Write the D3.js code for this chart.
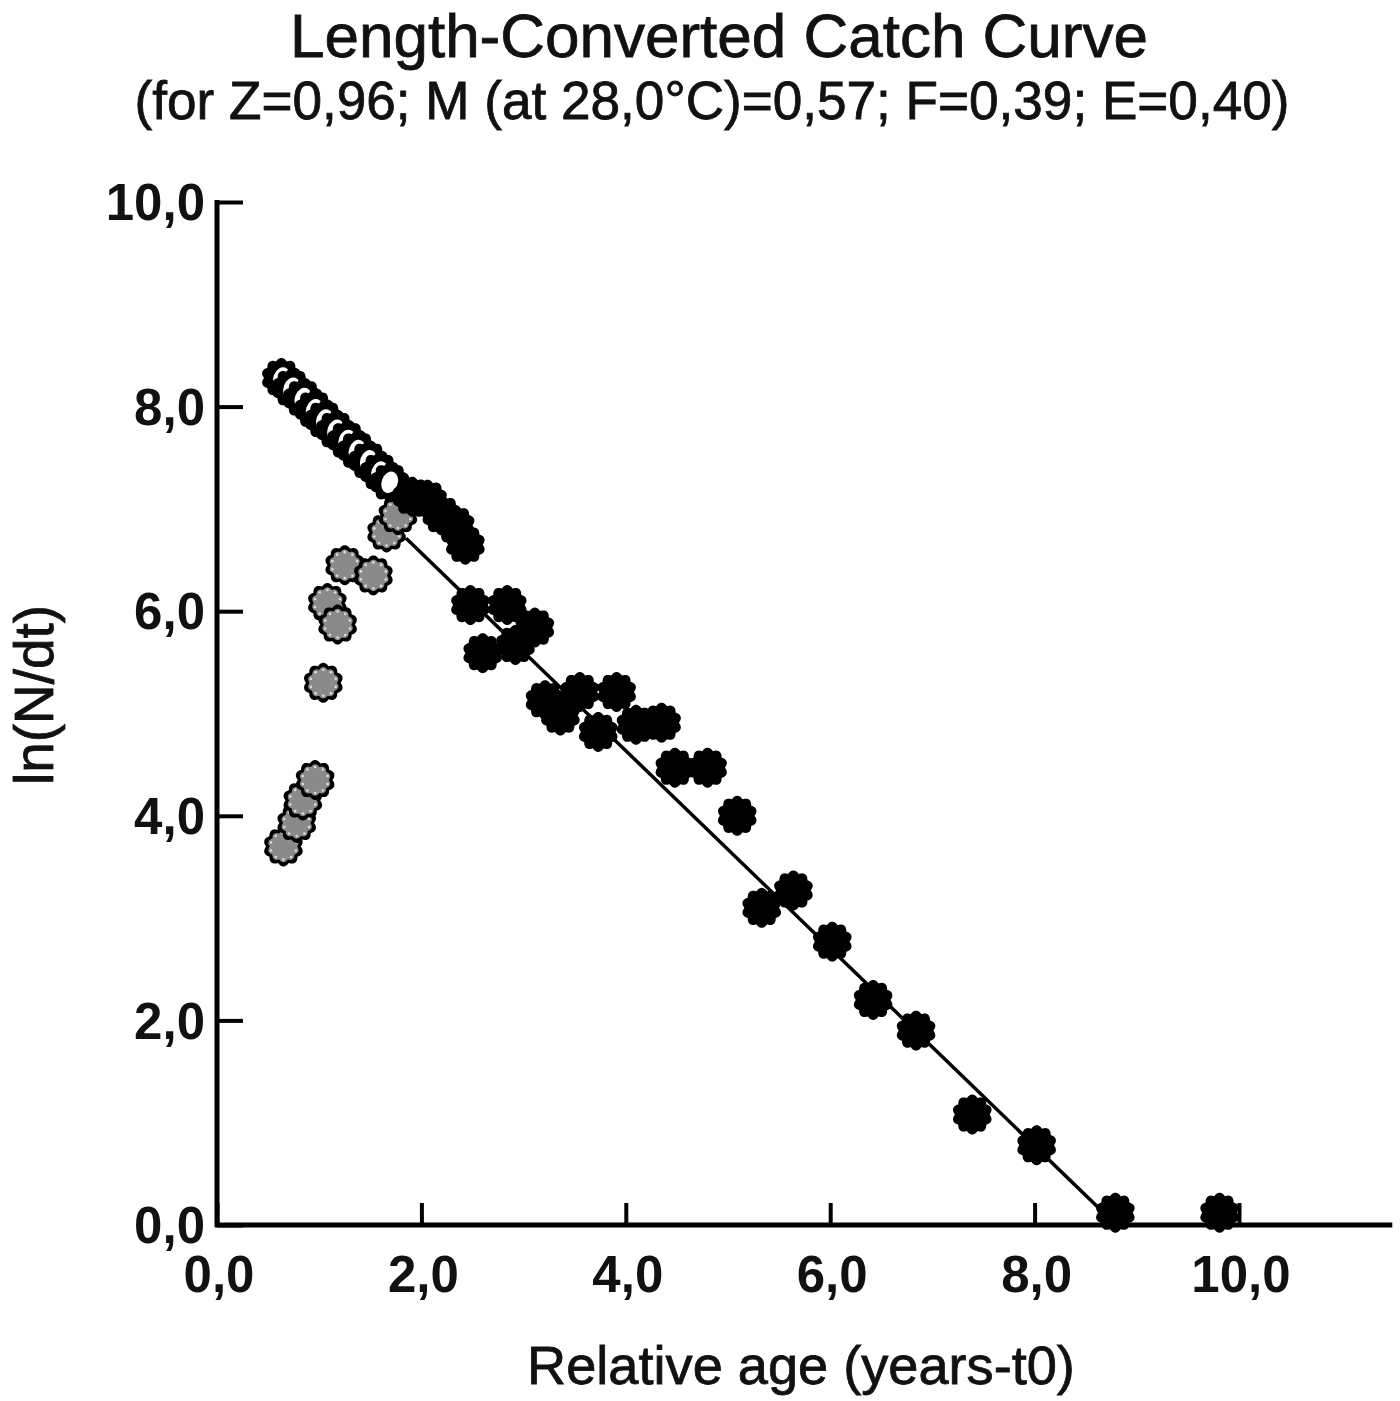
<!DOCTYPE html>
<html><head><meta charset="utf-8">
<script src="https://cdn.jsdelivr.net/npm/d3@7"></script>
<style>html,body{margin:0;padding:0;background:#fff;}</style>
</head><body>
<svg id="c" width="1400" height="1401"></svg>
<script>
// ---- data ----
const titleText = "Length-Converted Catch Curve";
const subtitleText = "(for Z=0,96; M (at 28,0°C)=0,57; F=0,39; E=0,40)";
const xLabel = "Relative age (years-t0)";
const yLabel = "ln(N/dt)";
const xTicks = [0, 2, 4, 6, 8, 10];
const yTicks = [0, 2, 4, 6, 8, 10];
const fmt = v => v.toFixed(1).replace(".", ",");

// open points
const openX = [0.63, 0.73, 0.84, 0.95, 1.05, 1.16, 1.27, 1.37, 1.48, 1.59, 1.69];
const openY = [8.28, 8.18, 8.08, 7.97, 7.87, 7.77, 7.67, 7.57, 7.47, 7.36, 7.26];
// grey points
const greyX = [0.65, 0.78, 0.84, 0.96, 1.04, 1.08, 1.18, 1.25, 1.53, 1.66, 1.77];
const greyY = [3.70, 3.93, 4.15, 4.35, 5.30, 6.08, 5.87, 6.45, 6.35, 6.77, 6.94];
// black points (used in regression)
const blackX = [1.91, 2.06, 2.20, 2.33, 2.43, 2.48, 2.84, 3.11, 2.60, 2.92, 3.21, 3.36, 3.55, 3.91, 3.73, 4.10, 4.35, 4.48, 4.80, 5.09, 5.33, 5.64, 6.02, 6.42, 6.84, 7.39, 8.02, 8.79, 9.81];
const blackY = [7.12, 7.09, 6.94, 6.84, 6.65, 6.06, 6.06, 5.84, 5.59, 5.67, 5.13, 4.98, 5.21, 5.21, 4.82, 4.89, 4.91, 4.47, 4.47, 4.00, 3.10, 3.27, 2.77, 2.20, 1.90, 1.08, 0.78, 0.12, 0.12];
// regression line: ln(N/dt) = a - Z * t
const lineA = 8.50, lineZ = 0.966;
const lineX = [1.85, 8.80];

// ---- drawing ----
const svg = d3.select("#c");
const FONT = "'Liberation Sans', Arial, sans-serif";
const x = d3.scaleLinear().domain([0, 11.5]).range([217, 217 + 11.5 * 102.2]);
const y = d3.scaleLinear().domain([0, 10]).range([1225, 202]);

function fitText(sel, target) {
  const fs = parseFloat(sel.attr("font-size"));
  const w = sel.node().getComputedTextLength();
  if (w > 0) sel.attr("font-size", fs * target / w);
}

// regression line
svg.append("line")
  .attr("x1", x(lineX[0])).attr("y1", y(lineA - lineZ * lineX[0]))
  .attr("x2", x(lineX[1])).attr("y2", y(Math.max(0, lineA - lineZ * lineX[1])))
  .attr("stroke", "#000").attr("stroke-width", 3.5);

// scalloped marker shape (rounded lobes)
function scallop(R, A) {
  const pts = d3.range(0, 720).map(i => {
    const t = i / 720 * 2 * Math.PI;
    return [t, R + A * Math.abs(Math.cos(5 * t))];
  });
  return d3.lineRadial().curve(d3.curveLinearClosed)(pts);
}
const markerPath = scallop(17.3, 2.7);
const innerPath = scallop(13.6, 2.1);

const open = openX.map((v, i) => ({x: v, y: openY[i]}));
const grey = greyX.map((v, i) => ({x: v, y: greyY[i]}));
const black = blackX.map((v, i) => ({x: v, y: blackY[i]}));

const gGrey = svg.append("g").selectAll("g").data(grey).join("g")
  .attr("transform", d => `translate(${x(d.x)},${y(d.y)})`);
gGrey.append("path").attr("d", markerPath).attr("fill", "#000");
gGrey.append("path").attr("d", innerPath).attr("fill", "#8a8a8a");
gGrey.selectAll("circle").data(d3.range(10)).join("circle")
  .attr("cx", k => 13 * Math.cos(k * Math.PI / 5 + Math.PI / 10))
  .attr("cy", k => 13 * Math.sin(k * Math.PI / 5 + Math.PI / 10))
  .attr("r", 1.3).attr("fill", "#ddd");

const gOpen = svg.append("g").selectAll("g").data(open).join("g")
  .attr("transform", d => `translate(${x(d.x)},${y(d.y)})`);
gOpen.append("path").attr("d", markerPath).attr("fill", "#000");
gOpen.append("ellipse").attr("rx", 8).attr("ry", 11).attr("fill", "#fff")
  .attr("transform", "rotate(20)");

svg.append("g").selectAll("path").data(black).join("path")
  .attr("transform", d => `translate(${x(d.x)},${y(d.y)})`)
  .attr("d", markerPath).attr("fill", "#000");

// axes
const xAxis = d3.axisBottom(x).tickValues(xTicks).tickSize(-22).tickFormat("");
const yAxis = d3.axisLeft(y).tickValues(yTicks).tickSize(-26).tickFormat("");
const gx = svg.append("g").attr("transform", "translate(0,1225)").call(xAxis);
const gy = svg.append("g").attr("transform", "translate(217,0)").call(yAxis);
[gx, gy].forEach(g => {
  g.select(".domain").remove();
  g.selectAll(".tick line").attr("stroke", "#000").attr("stroke-width", 4);
});
svg.append("line").attr("x1", 217).attr("x2", 217).attr("y1", 200).attr("y2", 1227)
  .attr("stroke", "#000").attr("stroke-width", 5);
svg.append("line").attr("x1", 215).attr("x2", x(11.5)).attr("y1", 1225).attr("y2", 1225)
  .attr("stroke", "#000").attr("stroke-width", 5);

// tick labels
const tickFs = 51;
svg.append("g").selectAll("text").data(yTicks).join("text")
  .attr("x", 205).attr("y", d => y(d) + tickFs * 0.716 / 2)
  .attr("text-anchor", "end").attr("font-family", FONT).attr("font-weight", "bold")
  .attr("font-size", tickFs).attr("fill", "#111").text(fmt);
svg.append("g").selectAll("text").data(xTicks).join("text")
  .attr("x", d => x(d) + 2).attr("y", 1292)
  .attr("text-anchor", "middle").attr("font-family", FONT).attr("font-weight", "bold")
  .attr("font-size", tickFs).attr("fill", "#111").text(fmt);

// titles
const t1 = svg.append("text").attr("x", 719).attr("y", 57).attr("text-anchor", "middle")
  .attr("font-family", FONT).attr("font-size", 60).attr("fill", "#111")
  .attr("stroke", "#111").attr("stroke-width", 0.8).text(titleText);
fitText(t1, 858);
const t2 = svg.append("text").attr("x", 712).attr("y", 119).attr("text-anchor", "middle")
  .attr("font-family", FONT).attr("font-size", 52).attr("fill", "#111")
  .attr("stroke", "#111").attr("stroke-width", 0.8).text(subtitleText);
fitText(t2, 1155);
const tx = svg.append("text").attr("x", 801).attr("y", 1384).attr("text-anchor", "middle")
  .attr("font-family", FONT).attr("font-size", 54).attr("fill", "#111")
  .attr("stroke", "#111").attr("stroke-width", 0.8).text(xLabel);
fitText(tx, 548);
const ty = svg.append("text").attr("transform", "translate(53,695) rotate(-90)")
  .attr("text-anchor", "middle")
  .attr("font-family", FONT).attr("font-size", 54).attr("fill", "#111")
  .attr("stroke", "#111").attr("stroke-width", 0.8).text(yLabel);
fitText(ty, 180);
</script>
</body></html>
